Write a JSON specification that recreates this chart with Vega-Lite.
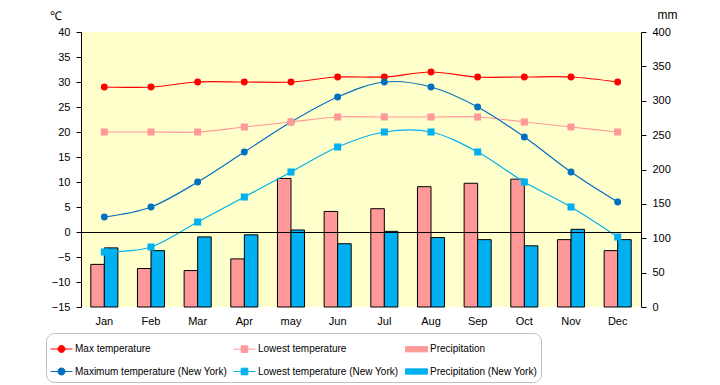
{
  "$schema": "https://vega.github.io/schema/vega-lite/v6.json",
  "width": 560,
  "height": 275,
  "autosize": {"type": "none"},
  "padding": {"left": 81, "top": 32, "right": 79, "bottom": 78},
  "background": "white",
  "config": {
    "view": {"fill": "#FFFFCC", "stroke": null},
    "font": "Liberation Sans",
    "axis": {"labelFont": "Liberation Sans", "labelFontSize": 11, "labelColor": "black", "grid": false, "domainColor": "black", "tickColor": "black", "titleColor": "black", "titleFont": "Liberation Sans", "titleFontWeight": "normal", "titleFontSize": 12, "labelOverlap": false}
  },
  "datasets": {
    "precip": [
      {"month": "Jan", "series": "Precipitation", "value": 62},
      {"month": "Feb", "series": "Precipitation", "value": 56},
      {"month": "Mar", "series": "Precipitation", "value": 53},
      {"month": "Apr", "series": "Precipitation", "value": 70},
      {"month": "may", "series": "Precipitation", "value": 187},
      {"month": "Jun", "series": "Precipitation", "value": 139},
      {"month": "Jul", "series": "Precipitation", "value": 143},
      {"month": "Aug", "series": "Precipitation", "value": 175},
      {"month": "Sep", "series": "Precipitation", "value": 180},
      {"month": "Oct", "series": "Precipitation", "value": 186},
      {"month": "Nov", "series": "Precipitation", "value": 98},
      {"month": "Dec", "series": "Precipitation", "value": 82},
      {"month": "Jan", "series": "Precipitation (New York)", "value": 86},
      {"month": "Feb", "series": "Precipitation (New York)", "value": 82},
      {"month": "Mar", "series": "Precipitation (New York)", "value": 102},
      {"month": "Apr", "series": "Precipitation (New York)", "value": 105},
      {"month": "may", "series": "Precipitation (New York)", "value": 112},
      {"month": "Jun", "series": "Precipitation (New York)", "value": 92},
      {"month": "Jul", "series": "Precipitation (New York)", "value": 110},
      {"month": "Aug", "series": "Precipitation (New York)", "value": 101},
      {"month": "Sep", "series": "Precipitation (New York)", "value": 98},
      {"month": "Oct", "series": "Precipitation (New York)", "value": 89},
      {"month": "Nov", "series": "Precipitation (New York)", "value": 113},
      {"month": "Dec", "series": "Precipitation (New York)", "value": 98}
    ],
    "temp": [
      {"month": "Jan", "series": "Max temperature", "kind": "max", "value": 29},
      {"month": "Feb", "series": "Max temperature", "kind": "max", "value": 29},
      {"month": "Mar", "series": "Max temperature", "kind": "max", "value": 30},
      {"month": "Apr", "series": "Max temperature", "kind": "max", "value": 30},
      {"month": "may", "series": "Max temperature", "kind": "max", "value": 30},
      {"month": "Jun", "series": "Max temperature", "kind": "max", "value": 31},
      {"month": "Jul", "series": "Max temperature", "kind": "max", "value": 31},
      {"month": "Aug", "series": "Max temperature", "kind": "max", "value": 32},
      {"month": "Sep", "series": "Max temperature", "kind": "max", "value": 31},
      {"month": "Oct", "series": "Max temperature", "kind": "max", "value": 31},
      {"month": "Nov", "series": "Max temperature", "kind": "max", "value": 31},
      {"month": "Dec", "series": "Max temperature", "kind": "max", "value": 30},
      {"month": "Jan", "series": "Lowest temperature", "kind": "low", "value": 20},
      {"month": "Feb", "series": "Lowest temperature", "kind": "low", "value": 20},
      {"month": "Mar", "series": "Lowest temperature", "kind": "low", "value": 20},
      {"month": "Apr", "series": "Lowest temperature", "kind": "low", "value": 21},
      {"month": "may", "series": "Lowest temperature", "kind": "low", "value": 22},
      {"month": "Jun", "series": "Lowest temperature", "kind": "low", "value": 23},
      {"month": "Jul", "series": "Lowest temperature", "kind": "low", "value": 23},
      {"month": "Aug", "series": "Lowest temperature", "kind": "low", "value": 23},
      {"month": "Sep", "series": "Lowest temperature", "kind": "low", "value": 23},
      {"month": "Oct", "series": "Lowest temperature", "kind": "low", "value": 22},
      {"month": "Nov", "series": "Lowest temperature", "kind": "low", "value": 21},
      {"month": "Dec", "series": "Lowest temperature", "kind": "low", "value": 20},
      {"month": "Jan", "series": "Maximum temperature (New York)", "kind": "max", "value": 3},
      {"month": "Feb", "series": "Maximum temperature (New York)", "kind": "max", "value": 5},
      {"month": "Mar", "series": "Maximum temperature (New York)", "kind": "max", "value": 10},
      {"month": "Apr", "series": "Maximum temperature (New York)", "kind": "max", "value": 16},
      {"month": "may", "series": "Maximum temperature (New York)", "kind": "max", "value": 22},
      {"month": "Jun", "series": "Maximum temperature (New York)", "kind": "max", "value": 27},
      {"month": "Jul", "series": "Maximum temperature (New York)", "kind": "max", "value": 30},
      {"month": "Aug", "series": "Maximum temperature (New York)", "kind": "max", "value": 29},
      {"month": "Sep", "series": "Maximum temperature (New York)", "kind": "max", "value": 25},
      {"month": "Oct", "series": "Maximum temperature (New York)", "kind": "max", "value": 19},
      {"month": "Nov", "series": "Maximum temperature (New York)", "kind": "max", "value": 12},
      {"month": "Dec", "series": "Maximum temperature (New York)", "kind": "max", "value": 6},
      {"month": "Jan", "series": "Lowest temperature (New York)", "kind": "low", "value": -4},
      {"month": "Feb", "series": "Lowest temperature (New York)", "kind": "low", "value": -3},
      {"month": "Mar", "series": "Lowest temperature (New York)", "kind": "low", "value": 2},
      {"month": "Apr", "series": "Lowest temperature (New York)", "kind": "low", "value": 7},
      {"month": "may", "series": "Lowest temperature (New York)", "kind": "low", "value": 12},
      {"month": "Jun", "series": "Lowest temperature (New York)", "kind": "low", "value": 17},
      {"month": "Jul", "series": "Lowest temperature (New York)", "kind": "low", "value": 20},
      {"month": "Aug", "series": "Lowest temperature (New York)", "kind": "low", "value": 20},
      {"month": "Sep", "series": "Lowest temperature (New York)", "kind": "low", "value": 16},
      {"month": "Oct", "series": "Lowest temperature (New York)", "kind": "low", "value": 10},
      {"month": "Nov", "series": "Lowest temperature (New York)", "kind": "low", "value": 5},
      {"month": "Dec", "series": "Lowest temperature (New York)", "kind": "low", "value": -1}
    ]
  },
  "encoding": {
    "x": {
      "field": "month", "type": "nominal",
      "sort": ["Jan", "Feb", "Mar", "Apr", "may", "Jun", "Jul", "Aug", "Sep", "Oct", "Nov", "Dec"],
      "scale": {"paddingInner": 0.42, "paddingOuter": 0.21},
      "axis": {"title": null, "domain": false, "ticks": false, "labelAngle": 0, "labelPadding": 8}
    },
    "color": {
      "field": "series", "type": "nominal",
      "scale": {
        "domain": ["Max temperature", "Lowest temperature", "Precipitation", "Maximum temperature (New York)", "Lowest temperature (New York)", "Precipitation (New York)"],
        "range": ["#FF0000", "#FF9999", "#FF9999", "#0070C0", "#00B0F0", "#00B0F0"]
      },
      "legend": {
        "orient": "none", "legendX": -35, "legendY": 301,
        "columns": 3, "direction": "horizontal", "gridAlign": "each",
        "title": null, "padding": 4, "rowPadding": 5, "columnPadding": 4,
        "strokeColor": "#BFBFBF", "cornerRadius": 8, "fillColor": "white",
        "labelFont": "Liberation Sans", "labelFontSize": 10, "labelColor": "black", "labelOffset": 2, "labelLimit": 300,
        "symbolSize": 484, "symbolStrokeWidth": 1,
        "encode": {
          "symbols": {
            "update": {
              "shape": {"signal": "indexof(['Precipitation','Precipitation (New York)'], datum.value) >= 0 ? 'M-1,-0.24L1,-0.24L1,0.24L-1,0.24Z' : (indexof(['Max temperature','Maximum temperature (New York)'], datum.value) >= 0 ? 'M-1,0L1,0M-0.32,0A0.32,0.32,0,1,1,0.32,0A0.32,0.32,0,1,1,-0.32,0Z' : 'M-1,0L1,0M-0.3,-0.3L0.3,-0.3L0.3,0.3L-0.3,0.3Z')"},
              "stroke": {"signal": "indexof(['Precipitation','Precipitation (New York)'], datum.value) >= 0 ? 'black' : scale('color', datum.value)"},
              "fill": {"signal": "scale('color', datum.value)"},
              "strokeWidth": {"value": 1},
              "opacity": {"value": 1},
              "fillOpacity": {"value": 1},
              "strokeOpacity": {"value": 1}
            }
          }
        }
      }
    }
  },
  "layer": [
    {
      "data": {"name": "precip"},
      "mark": {"type": "bar", "stroke": "black", "strokeWidth": 1},
      "encoding": {
        "xOffset": {"field": "series", "type": "nominal", "sort": ["Precipitation", "Precipitation (New York)"], "scale": {"paddingInner": 0, "paddingOuter": 0}},
        "y": {
          "field": "value", "type": "quantitative",
          "scale": {"domain": [0, 400], "nice": false},
          "axis": {"orient": "right", "values": [0, 50, 100, 150, 200, 250, 300, 350, 400], "tickSize": 5, "labelPadding": 6, "labelOverlap": false, "title": "mm", "titleAngle": 0, "titleX": 26, "titleY": -18, "titleAlign": "center", "titleBaseline": "middle"}
        }
      }
    },
    {
      "data": {"name": "temp"},
      "mark": {"type": "line", "interpolate": "cardinal", "strokeWidth": 1.2},
      "encoding": {
        "y": {
          "field": "value", "type": "quantitative",
          "scale": {"domain": [-15, 40], "nice": false, "zero": false},
          "axis": {"orient": "left", "values": [-15, -10, -5, 0, 5, 10, 15, 20, 25, 30, 35, 40], "tickSize": 5, "labelPadding": 6, "labelOverlap": false, "title": "℃", "titleAngle": 0, "titleX": -26, "titleY": -17, "titleAlign": "center", "titleBaseline": "middle"}
        }
      }
    },
    {
      "data": {"name": "temp"},
      "mark": {"type": "rule", "color": "black", "strokeWidth": 1, "yOffset": 0.5},
      "encoding": {"y": {"datum": 0, "type": "quantitative", "scale": {"domain": [-15, 40], "nice": false, "zero": false}, "axis": null}, "x": null, "color": null}
    },
    {
      "data": {"name": "temp"},
      "transform": [{"filter": "datum.kind === 'max'"}],
      "mark": {"type": "circle", "size": 48, "opacity": 1},
      "encoding": {"y": {"field": "value", "type": "quantitative", "scale": {"domain": [-15, 40], "nice": false, "zero": false}, "axis": null}}
    },
    {
      "data": {"name": "temp"},
      "transform": [{"filter": "datum.kind === 'low'"}],
      "mark": {"type": "square", "size": 50, "opacity": 1},
      "encoding": {"y": {"field": "value", "type": "quantitative", "scale": {"domain": [-15, 40], "nice": false, "zero": false}, "axis": null}}
    }
  ],
  "resolve": {"scale": {"y": "independent"}}
}
